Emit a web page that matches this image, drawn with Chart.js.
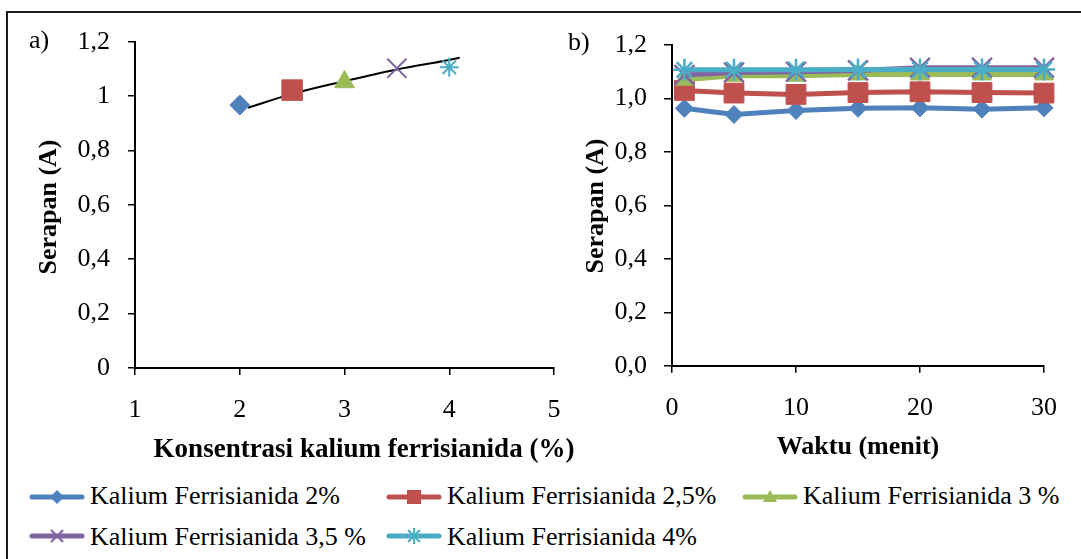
<!DOCTYPE html>
<html>
<head>
<meta charset="utf-8">
<title>Serapan kalium ferrisianida</title>
<script src="https://cdn.jsdelivr.net/npm/chart.js@4.4.1/dist/chart.umd.min.js"></script>
<style>
    html, body { margin: 0; padding: 0; background: #fff; }
    body {
        width: 1081px; height: 559px; position: relative; overflow: hidden;
        font-family: "Liberation Serif", "Times New Roman", serif; color: #000;
    }
    .frame {
        position: absolute; left: 6px; top: 11px; width: 1100px; height: 600px;
        border-left: 2px solid #1b1b1b; border-top: 2px solid #1b1b1b;
    }
    canvas { position: absolute; top: 0; }
    .txt { position: absolute; font-size: 26px; line-height: 26px; white-space: nowrap; }
    .bold { font-weight: bold; }
    .xtitle { transform: translateX(-50%); }
    .ytitle { transform: translate(-50%, -50%) rotate(-90deg); }
    .swatch { position: absolute; }
</style>
</head>
<body>
<div class="frame"></div>
<canvas id="chart-a" width="600" height="460" style="left:0"></canvas>
<canvas id="chart-b" width="521" height="460" style="left:560px"></canvas>

<div class="txt" style="left:29px; top:27px">a)</div>
<div class="txt" style="left:568px; top:29px">b)</div>
<div class="txt bold ytitle" style="left:48px; top:207px">Serapan (A)</div>
<div class="txt bold ytitle" style="left:595px; top:206px">Serapan (A)</div>
<div class="txt bold xtitle" style="left:364px; top:435px; font-size:27px">Konsentrasi kalium ferrisianida (%)</div>
<div class="txt bold xtitle" style="left:858px; top:433px">Waktu (menit)</div>
<div id="legend"></div>

<script>
// Series shared by both panels
const seriesNames = ['Kalium Ferrisianida 2%', 'Kalium Ferrisianida 2,5%', 'Kalium Ferrisianida 3 %',
                     'Kalium Ferrisianida 3,5 %', 'Kalium Ferrisianida 4%'];
const seriesColors = ['#4F81BD', '#C0504D', '#9BBB59', '#8064A2', '#4BACC6'];

// Panel a) - absorbance vs concentration
const concA = [2, 2.5, 3, 3.5, 4];
const serapanA = [0.967, 1.022, 1.052, 1.102, 1.106];
const trendX = [2.08, 2.5, 3, 3.5, 4, 4.1];
const trendY = [0.957, 1.008, 1.055, 1.098, 1.133, 1.141];
const xTicksA = ['1', '2', '3', '4', '5'];
const yTicksA = ['0', '0,2', '0,4', '0,6', '0,8', '1', '1,2'];

// Panel b) - absorbance vs time
const waktu = [1, 5, 10, 15, 20, 25, 30];
const serapan2 = [0.963, 0.94, 0.955, 0.963, 0.965, 0.96, 0.965];
const serapan25 = [1.03, 1.02, 1.015, 1.022, 1.025, 1.022, 1.02];
const serapan3 = [1.07, 1.085, 1.085, 1.09, 1.09, 1.09, 1.09];
const serapan35 = [1.088, 1.097, 1.1, 1.105, 1.115, 1.115, 1.115];
const serapan4 = [1.107, 1.107, 1.107, 1.108, 1.108, 1.108, 1.108];
const xTicksB = ['0', '10', '20', '30'];
const yTicksB = ['0,0', '0,2', '0,4', '0,6', '0,8', '1,0', '1,2'];

Chart.defaults.font.family = '"Liberation Serif", "Times New Roman", serif';
Chart.defaults.font.size = 26;
Chart.defaults.color = '#000';

// marker styles for each series
const markerA = [
    { pointStyle: 'rectRot', radius: 10, borderWidth: 1 },
    { pointStyle: 'rect', radius: 14.5, borderWidth: 1 },
    { pointStyle: 'triangle', radius: 11.5, borderWidth: 1 },
    { pointStyle: 'crossRot', radius: 13.5, borderWidth: 2 },
    { pointStyle: 'star', radius: 9.5, borderWidth: 2 }
];
const markerB = [
    { pointStyle: 'rectRot', radius: 9, borderWidth: 1 },
    { pointStyle: 'rect', radius: 14, borderWidth: 1 },
    { pointStyle: 'triangle', radius: 11, borderWidth: 1 },
    { pointStyle: 'crossRot', radius: 14, borderWidth: 2.5 },
    { pointStyle: 'star', radius: 11, borderWidth: 2.5 }
];

function axisStyle(tickLength) {
    return {
        grid: { display: true, drawOnChartArea: false, drawTicks: true, tickLength: tickLength, color: '#000', lineWidth: 1.5 },
        border: { display: true, color: '#000', width: 2 }
    };
}

// Chart a
const datasetsA = concA.map((x, i) => ({
    label: seriesNames[i],
    data: [{ x: x, y: serapanA[i] }],
    showLine: false,
    pointStyle: markerA[i].pointStyle,
    pointRadius: markerA[i].radius,
    pointBorderWidth: markerA[i].borderWidth,
    pointBackgroundColor: seriesColors[i],
    pointBorderColor: seriesColors[i],
    order: 0
}));
datasetsA.push({
    label: 'Trend',
    data: trendX.map((x, i) => ({ x: x, y: trendY[i] })),
    showLine: true,
    borderColor: '#000',
    borderWidth: 2,
    pointRadius: 0,
    cubicInterpolationMode: 'monotone',
    order: 10
});

new Chart(document.getElementById('chart-a'), {
    type: 'scatter',
    data: { datasets: datasetsA },
    options: {
        responsive: false,
        animation: false,
        clip: false,
        layout: { padding: { top: 41.7, right: 46, left: 0, bottom: 0 } },
        plugins: { legend: { display: false }, tooltip: { enabled: false } },
        scales: {
            x: {
                type: 'linear', min: 1, max: 5,
                ...axisStyle(7),
                ticks: { stepSize: 1, padding: 20, maxRotation: 0,
                         callback: (v) => xTicksA[Math.round(v) - 1] },
                afterFit: (scale) => { scale.height = 92; }
            },
            y: {
                type: 'linear', min: 0, max: 1.2,
                ...axisStyle(7),
                ticks: { stepSize: 0.2, padding: 18,
                         callback: (v) => yTicksA[Math.round(v / 0.2)] },
                afterFit: (scale) => { scale.width = 135; }
            }
        }
    }
});

// Chart b
const seriesB = [serapan2, serapan25, serapan3, serapan35, serapan4];
const datasetsB = seriesB.map((vals, i) => ({
    label: seriesNames[i],
    data: waktu.map((t, j) => ({ x: t, y: vals[j] })),
    borderColor: seriesColors[i],
    borderWidth: 5,
    pointStyle: markerB[i].pointStyle,
    pointRadius: markerB[i].radius,
    pointBorderWidth: markerB[i].borderWidth,
    pointBackgroundColor: seriesColors[i],
    pointBorderColor: seriesColors[i],
    order: 4 - i
}));

new Chart(document.getElementById('chart-b'), {
    type: 'line',
    data: { datasets: datasetsB },
    options: {
        responsive: false,
        animation: false,
        clip: false,
        layout: { padding: { top: 45, right: 37, left: 0, bottom: 0 } },
        plugins: { legend: { display: false }, tooltip: { enabled: false } },
        scales: {
            x: {
                type: 'linear', min: 0, max: 30,
                ...axisStyle(7),
                ticks: { stepSize: 10, padding: 20, maxRotation: 0,
                         callback: (v) => xTicksB[Math.round(v / 10)] },
                afterFit: (scale) => { scale.height = 94.3; }
            },
            y: {
                type: 'linear', min: 0, max: 1.2,
                ...axisStyle(8),
                ticks: { stepSize: 0.2, padding: 17,
                         callback: (v) => yTicksB[Math.round(v / 0.2)] },
                afterFit: (scale) => { scale.width = 112; }
            }
        }
    }
});

// Shared legend below the two panels
const legendSlots = [
    { swatch: 28, text: 90, row: 0 },
    { swatch: 385, text: 447, row: 0 },
    { swatch: 741, text: 803, row: 0 },
    { swatch: 28, text: 90, row: 1 },
    { swatch: 385, text: 447, row: 1 }
];
const rowCenter = [497, 536];
const rowTextTop = [483, 524];

function markerSvg(i, c) {
    switch (i) {
        case 0: return `<polygon points="29,3 36,10 29,17 22,10" fill="${c}"/>`;
        case 1: return `<rect x="22" y="3" width="14" height="14" fill="${c}"/>`;
        case 2: return `<polygon points="29,3 36,15 22,15" fill="${c}"/>`;
        case 3: return `<path d="M23,4 L35,16 M23,16 L35,4" stroke="${c}" stroke-width="2"/>`;
        default: return `<path d="M23,4 L35,16 M23,16 L35,4 M29,2 L29,18" stroke="${c}" stroke-width="2"/>`;
    }
}

const legend = document.getElementById('legend');
seriesNames.forEach((name, i) => {
    const slot = legendSlots[i];
    const c = seriesColors[i];
    const sw = document.createElement('div');
    sw.className = 'swatch';
    sw.style.left = slot.swatch + 'px';
    sw.style.top = (rowCenter[slot.row] - 10) + 'px';
    sw.innerHTML = `<svg width="58" height="20" xmlns="http://www.w3.org/2000/svg">
        <line x1="4" y1="10" x2="54" y2="10" stroke="${c}" stroke-width="5" stroke-linecap="round"/>
        ${markerSvg(i, c)}</svg>`;
    legend.appendChild(sw);

    const t = document.createElement('div');
    t.className = 'txt';
    t.style.left = slot.text + 'px';
    t.style.top = rowTextTop[slot.row] + 'px';
    t.textContent = name;
    legend.appendChild(t);
});
</script>
</body>
</html>
